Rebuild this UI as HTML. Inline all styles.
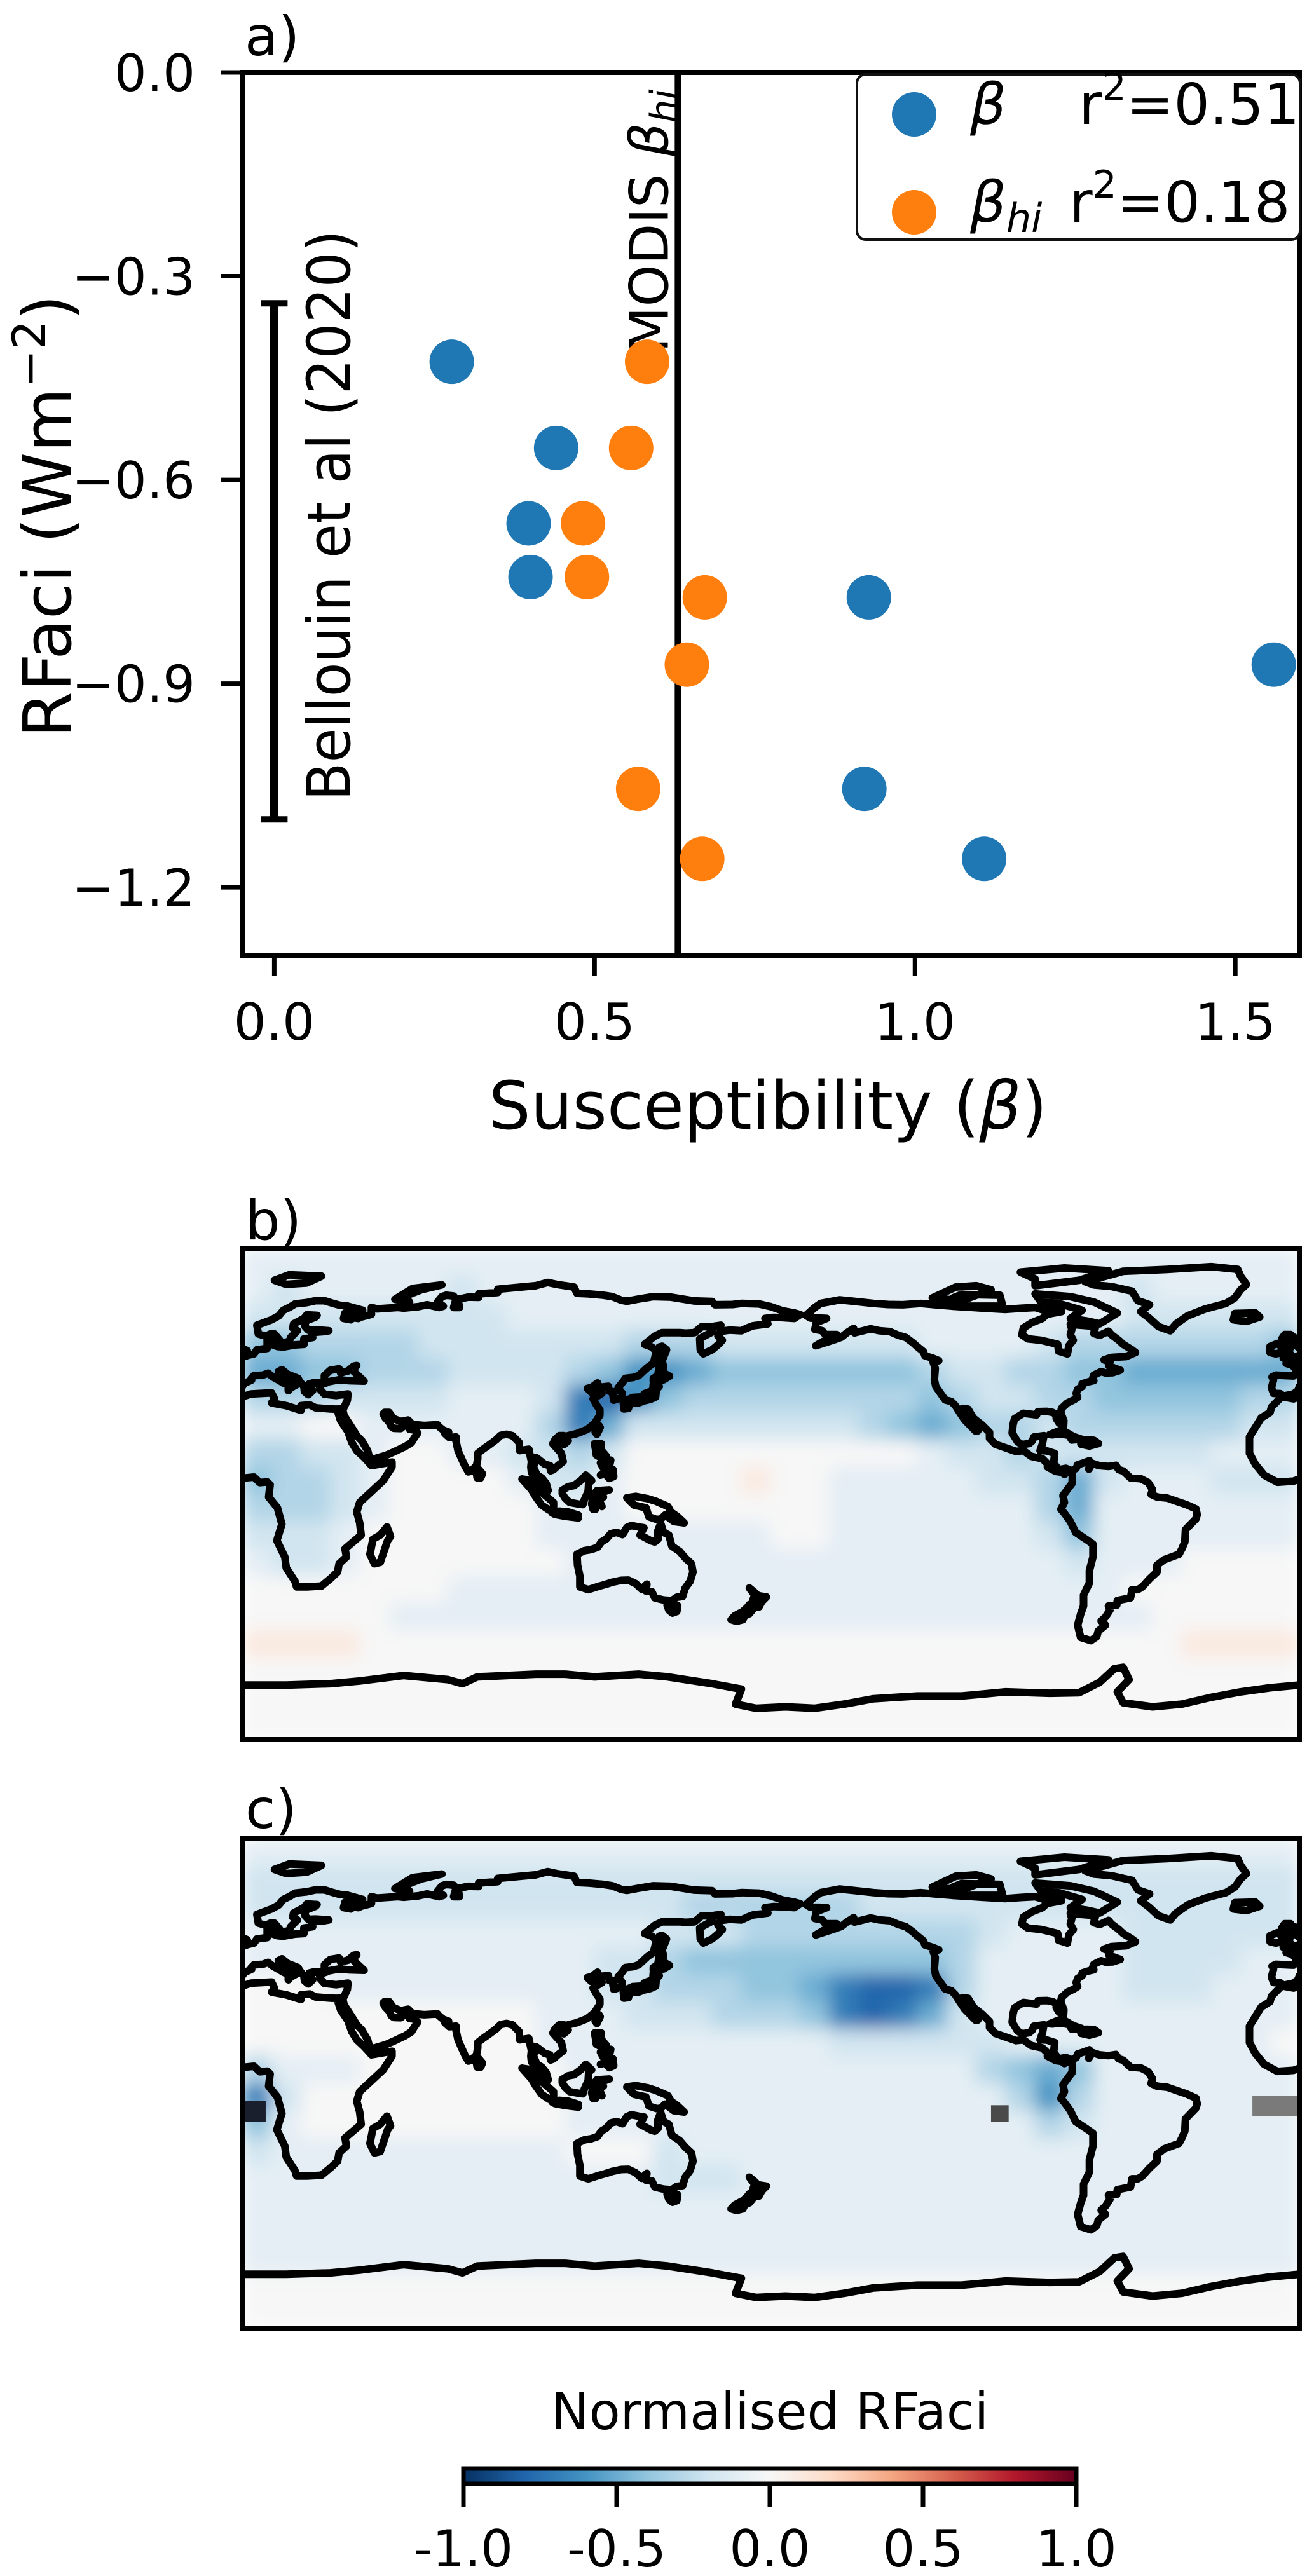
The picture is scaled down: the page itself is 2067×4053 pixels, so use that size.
<!DOCTYPE html>
<html><head><meta charset="utf-8">
<style>
html,body{margin:0;padding:0;background:#fff;}
svg{display:block;font-family:"DejaVu Sans","Liberation Sans",sans-serif;}
</style></head>
<body>
<svg id="fig" xmlns="http://www.w3.org/2000/svg" width="2067" height="4053" viewBox="0 0 2067 4053">
<defs>
  <clipPath id="clipA"><rect x="381" y="114" width="1663" height="1389"/></clipPath>
  <clipPath id="clipB"><rect x="381" y="1965" width="1663" height="772"/></clipPath>
  <clipPath id="clipC"><rect x="381" y="2892" width="1663" height="772"/></clipPath>
  <filter id="soft" x="0" y="0" width="1" height="1"><feGaussianBlur stdDeviation="14" edgeMode="duplicate"/></filter>
  <linearGradient id="cmap" x1="0" x2="1" y1="0" y2="0">
    <stop offset="0" stop-color="#053061"/><stop offset="0.1" stop-color="#2166ac"/>
    <stop offset="0.2" stop-color="#4393c3"/><stop offset="0.3" stop-color="#92c5de"/>
    <stop offset="0.4" stop-color="#d1e5f0"/><stop offset="0.5" stop-color="#f7f7f7"/>
    <stop offset="0.6" stop-color="#fddbc7"/><stop offset="0.7" stop-color="#f4a582"/>
    <stop offset="0.8" stop-color="#d6604d"/><stop offset="0.9" stop-color="#b2182b"/>
    <stop offset="1" stop-color="#67001f"/>
  </linearGradient>
</defs>

<g id="panelA">
  <text x="385" y="87" font-size="86">a)</text>
  <g id="aMarks" clip-path="url(#clipA)"></g>
  <rect x="381" y="114" width="1663" height="1389" fill="none" stroke="#000" stroke-width="8"/>
  <g id="aTicks"></g>
  <text x="1208" y="1776" font-size="104" text-anchor="middle">Susceptibility (<tspan font-style="italic">β</tspan>)</text>
  <text transform="translate(111,812) rotate(-90)" font-size="104" text-anchor="middle">RFaci (Wm<tspan dy="-40" font-size="72">−2</tspan><tspan dy="40">)</tspan></text>
  <g>
    <rect x="1348" y="117" width="697" height="260" rx="14" fill="#fff" stroke="#111" stroke-width="4"/>
    <circle cx="1438" cy="180" r="35" fill="#1f77b4"/>
    <text x="1526" y="195" font-size="89" font-style="italic">β</text>
    <text x="1697" y="195" font-size="89">r<tspan dy="-38" font-size="60">2</tspan><tspan dy="38">=0.51</tspan></text>
    <circle cx="1438" cy="334" r="35" fill="#ff7f0e"/>
    <text x="1526" y="349" font-size="89" font-style="italic">β<tspan dy="16" font-size="62">hi</tspan></text>
    <text x="1682" y="349" font-size="89">r<tspan dy="-38" font-size="60">2</tspan><tspan dy="38">=0.18</tspan></text>
  </g>
</g>

<g>
  <text x="386" y="1950" font-size="86">b)</text>
  <g clip-path="url(#clipB)"><g id="heatB" filter="url(#soft)"></g><g id="extraB"></g><g id="coastB"></g></g>
  <rect x="381" y="1965" width="1663" height="772" fill="none" stroke="#000" stroke-width="8"/>
</g>

<g>
  <text x="386" y="2876" font-size="86">c)</text>
  <g clip-path="url(#clipC)"><g id="heatC" filter="url(#soft)"></g><g id="extraC"></g><g id="coastC"></g></g>
  <rect x="381" y="2892" width="1663" height="772" fill="none" stroke="#000" stroke-width="8"/>
</g>

<g>
  <text x="1211" y="3822" font-size="80" text-anchor="middle">Normalised RFaci</text>
  <rect x="729" y="3884" width="964" height="24" fill="url(#cmap)" stroke="#000" stroke-width="7"/>
  <g id="cbTicks"></g>
</g>
</svg>

<script>
const rfaci = [-0.426, -0.553, -0.664, -0.743, -0.773, -0.872, -1.055, -1.158];
const betaVals = [0.277, 0.440, 0.397, 0.400, 0.928, 1.56, 0.921, 1.108];
const betaHiVals = [0.582, 0.557, 0.482, 0.488, 0.672, 0.644, 0.568, 0.668];
const xTicks = [0.0, 0.5, 1.0, 1.5];
const xTickLabels = ["0.0", "0.5", "1.0", "1.5"];
const yTicks = [0.0, -0.3, -0.6, -0.9, -1.2];
const yTickLabels = ["0.0", "−0.3", "−0.6", "−0.9", "−1.2"];
const modisBetaHi = 0.63;
const bellouinRange = [-0.34, -1.10];
const cbTickVals = [-1.0, -0.5, 0.0, 0.5, 1.0];
const cbTickLabels = ["-1.0", "-0.5", "0.0", "0.5", "1.0"];

const mapB = [
[-1,-1,-1,-1,-1,-1,-1,-1,-1,-1,-1,-1,-1,-1,-1,-1,-1,-1,-1,-1,-1,-1,-1,-1,-1,-1,-1,-1,-1,-1,-1,-1,-1,-1,-1,-1],
[-1,-2,-1,-1,-1,-1,-1,-2,-1,-1,-1,-1,-1,-1,-1,-1,-1,-1,-1,-1,-1,-1,-1,-1,-1,-1,-1,-1,-1,-1,-2,-1,-1,-1,-1,-1],
[-2,-2,-2,-2,-2,-2,-2,-2,-2,-1,-1,-1,-1,-1,-1,-1,-1,-1,-1,-1,-1,-1,-1,-1,-1,-1,-1,-1,-1,-1,-2,-2,-2,-2,-2,-2],
[-4,-4,-3,-3,-3,-3,-2,-2,-2,-2,-2,-2,-2,-3,-3,-3,-2,-2,-2,-2,-2,-2,-2,-1,-1,-1,-1,-2,-3,-3,-3,-3,-3,-3,-3,-4],
[-5,-5,-4,-4,-3,-3,-3,-2,-2,-2,-2,-3,-4,-6,-6,-5,-4,-4,-4,-4,-4,-4,-4,-3,-2,-2,-3,-3,-4,-4,-5,-5,-5,-5,-5,-5],
[-3,-3,-3,-2,-2,-2,-2,-1,-1,-1,-2,-7,-8,-6,-4,-3,-3,-3,-3,-3,-3,-3,-3,-4,-3,-2,-2,-3,-3,-4,-4,-4,-4,-4,-3,-3],
[-1,-1, 0, 0,-1,-1,-1,-1,-1,-1,-3,-7,-5,-2,-2,-2,-2,-2,-2,-2,-2,-3,-4,-5,-4,-3,-3,-2,-3,-3,-3,-3,-3,-3,-2,-2],
[-3,-3,-2,-2,-1, 0, 0,-1,-1,-2,-2,-3,-2, 0, 0, 0, 0, 0, 0, 0, 0, 0, 0,-1,-2,-2,-3,-2,-2,-2,-2,-2,-2,-1,-1,-1],
[-4,-3,-3,-2,-1, 0, 0, 0, 0,-1,-2,-2,-1, 0, 0, 0, 0, 1, 0, 0,-1,-1,-1,-1,-1,-2,-2,-3,-5,-2,-1,-1,-1,-2,-2,-2],
[-3,-3,-3,-2,-1, 0, 0, 0, 0, 0,-1,-1,-1, 0, 0, 0, 0, 0, 0, 0,-1,-1,-1,-1,-1,-1,-1,-3,-5,-1,-1,-1,-1,-1,-1,-1],
[-2,-2,-2,-1, 0, 0, 0, 0, 0, 0,-1,-1,-1,-1,-1,-1,-1,-1, 0, 0,-1,-1,-1,-1,-1,-1,-1,-2,-4,-1,-1,-1,-1,-1,-1,-1],
[-1,-2,-2,-1, 0, 0, 0, 0, 0, 0, 0,-1,-1,-1,-1,-1,-1,-1,-1,-1,-1,-1,-1,-1,-1,-1,-1,-1,-2,-1,-1,-1, 0, 0, 0, 0],
[ 0, 0, 0, 0, 0, 0, 0,-1,-1,-1,-1,-1,-1,-1,-1,-1,-1,-1,-1,-1,-1,-1,-1,-1,-1,-1,-1,-1,-1,-1, 0, 0, 0, 0, 0, 0],
[ 0, 0, 0, 0, 0,-1,-1,-1,-1,-1,-1,-1,-1,-1,-1,-1,-1,-1,-1,-1,-1,-1,-1,-1,-1,-1,-1,-1,-1,-1,-1, 0, 0, 0, 0, 0],
[ 1, 1, 1, 1, 0, 0, 0, 0, 0, 0, 0, 0, 0, 0, 0, 0, 0, 0, 0, 0, 0, 0, 0, 0, 0, 0, 0, 0, 0, 0, 0, 0, 1, 1, 1, 1],
[ 0, 0, 0, 0, 0, 0, 0, 0, 0, 0, 0, 0, 0, 0, 0, 0, 0, 0, 0, 0, 0, 0, 0, 0, 0, 0, 0, 0, 0, 0, 0, 0, 0, 0, 0, 0],
[ 0, 0, 0, 0, 0, 0, 0, 0, 0, 0, 0, 0, 0, 0, 0, 0, 0, 0, 0, 0, 0, 0, 0, 0, 0, 0, 0, 0, 0, 0, 0, 0, 0, 0, 0, 0],
[ 0, 0, 0, 0, 0, 0, 0, 0, 0, 0, 0, 0, 0, 0, 0, 0, 0, 0, 0, 0, 0, 0, 0, 0, 0, 0, 0, 0, 0, 0, 0, 0, 0, 0, 0, 0]
];
const mapC = [
[-1,-1,-1,-1,-1,-1,-1,-1,-1,-1,-1,-1,-1,-1,-1,-1,-1,-1,-1,-1,-1,-1,-1,-1,-1,-1,-1,-1,-1,-1,-1,-1,-1,-1,-1,-1],
[-2,-2,-2,-2,-2,-2,-2,-2,-2,-2,-2,-2,-2,-2,-2,-2,-2,-2,-2,-2,-2,-2,-2,-2,-2,-2,-2,-2,-2,-2,-2,-2,-2,-2,-2,-2],
[-2,-2,-2,-2,-2,-2,-2,-2,-2,-2,-2,-2,-2,-2,-2,-3,-3,-3,-3,-3,-3,-2,-2,-2,-2,-2,-2,-2,-2,-2,-2,-2,-2,-2,-2,-2],
[-1,-1,-1,-1,-1,-1,-1,-1,-1,-1,-1,-1,-1,-1,-2,-2,-2,-3,-3,-3,-3,-3,-3,-3,-3,-2,-1,-1,-1,-1,-2,-2,-2,-2,-2,-2],
[-1,-1,-1,-1,-1,-1,-1,-1,-1,-1,-1,-1,-2,-2,-3,-4,-4,-4,-4,-4,-4,-4,-4,-4,-3,-1,-1,-1,-1,-1,-2,-2,-2,-2,-1,-1],
[ 0, 0, 0,-1,-1,-1,-1,-1,-1,-1,-1,-1,-2,-2,-3,-3,-3,-4,-4,-5,-7,-8,-8,-7,-3,-1,-1,-1,-1,-1,-2,-2,-2,-1,-1,-1],
[ 0, 0, 0, 0, 0, 0, 0, 0, 0, 0,-1,-1,-1,-2,-2,-2,-3,-3,-3,-4,-7,-8,-7,-5,-2,-1,-1,-1,-1,-1,-1,-1,-1,-1,-1,-1],
[ 0, 0, 0, 0, 0, 0, 0, 0, 0, 0,-1,-1,-1,-1,-1,-1,-1,-1,-1,-1,-2,-2,-2,-2,-2,-2,-1,-1,-1,-1,-1,-1,-1,-1,-1, 0],
[-3,-1,-1,-1, 0, 0, 0, 0, 0, 0, 0,-1,-1,-1,-1,-1,-1,-1,-1,-1,-1,-1,-1,-1,-1,-3,-4,-5,-4,-1,-1,-1,-1,-1,-1,-1],
[-7,-2, 0, 0, 0, 0, 0, 0, 0, 0, 0,-1,-1,-1,-1,-1,-1,-1,-1,-1,-1,-1,-1,-1,-1,-1,-3,-6,-3,-1,-1,-1,-1,-1,-1,-1],
[-4,-1, 0, 0, 0, 0, 0, 0, 0, 0, 0,-1,-1,-1,-1,-1,-1,-1,-1,-1,-1,-1,-1,-1,-1,-1,-1,-3,-2,-1,-1,-1,-1,-1,-1,-1],
[-2,-1,-1,-1,-1,-1,-1,-1,-1,-1,-1, 0, 0, 0,-2,-1,-1,-1,-1,-1,-1,-1,-1,-1,-1,-1,-1,-1,-1,-1,-1,-1,-1,-1,-1,-1],
[-1,-1,-1,-1,-1,-1,-1,-1,-1,-1,-1,-1,-1,-1,-2,-2,-2,-1,-1,-1,-1,-1,-1,-1,-1,-1,-1,-1,-1,-1,-1,-1,-1,-1,-1,-1],
[-1,-1,-1,-1,-1,-1,-1,-1,-1,-1,-1,-1,-1,-1,-1,-1,-1,-1,-1,-1,-1,-1,-1,-1,-1,-1,-1,-1,-1,-1,-1,-1,-1,-1,-1,-1],
[-1,-1,-1,-1,-1,-1,-1,-1,-1,-1,-1,-1,-1,-1,-1,-1,-1,-1,-1,-1,-1,-1,-1,-1,-1,-1,-1,-1,-1,-1,-1,-1,-1,-1,-1,-1],
[-1,-1,-1,-1,-1,-1,-1,-1,-1,-1,-1,-1,-1,-1,-1,-1,-1,-1,-1,-1,-1,-1,-1,-1,-1,-1,-1,-1,-1,-1,-1,-1,-1,-1,-1,-1],
[ 0, 0, 0, 0, 0, 0, 0, 0, 0, 0, 0, 0, 0, 0, 0, 0, 0, 0, 0, 0, 0, 0, 0, 0, 0, 0, 0, 0, 0, 0, 0, 0, 0, 0, 0, 0],
[ 0, 0, 0, 0, 0, 0, 0, 0, 0, 0, 0, 0, 0, 0, 0, 0, 0, 0, 0, 0, 0, 0, 0, 0, 0, 0, 0, 0, 0, 0, 0, 0, 0, 0, 0, 0]
];
const missingC = [[255,261,-8,-14,"#4a4a4a"],[344,360,-4.5,-12,"#7a7a7a"],[0,8,-6.5,-14,"#1a1f2e"]];

const coasts = [
[[-17,15],[-17,21],[-13,28],[-10,30],[-9.5,32],[-6,35.8],[-2,35],[3,36.8],[10,37.2],[11,35],[10,33.5],[15,32.5],[20,30.8],[20,32.5],[23,32.8],[25,31.7],[30,31.3],[32.3,31.2],[32.6,30],[33.5,27],[36,23],[37.3,19],[39,16],[41.5,13.5],[43.2,11.5],[44,10.5],[51,11.8],[51,10],[48,5],[42,-1],[40,-3],[39,-6.5],[40,-10.5],[40.5,-15],[35,-20],[35.5,-23],[33,-25.5],[32.5,-28.5],[30,-31],[27,-33.7],[22,-34],[18.5,-34],[18,-32],[15,-27],[14.5,-23],[11.8,-17],[13.5,-11],[12,-5],[9,-1],[9.5,3.5],[8.5,4.5],[6,4.3],[4,6.3],[1,6],[-2,4.8],[-7.5,4.4],[-12,7],[-15,11],[-17,15]],
[[32.3,31.2],[34.5,31.5],[35.8,34.5],[36,36.8],[32,36.2],[28,36.7],[26.5,38.5],[26.3,40],[29,41],[28,41.6],[28,43.5],[30,45.5],[33,46],[33.5,44.5],[36,45.2],[38,47],[39,47.2],[37.5,45.5],[41.5,41.5],[36,41.7],[33,42],[29,41.2],[26.5,40.8],[24,40.8],[22.8,40.5],[24,38],[22.5,36.5],[21.2,37.7],[21,39.5],[19.5,41.5],[19,42.5],[15.5,44],[13.5,45.7],[12.3,45],[12.5,44],[14,42],[16,41],[18.5,40.2],[16.5,39],[15.7,38],[15.7,40],[14,40.8],[12.5,41.8],[10.5,43],[8.8,44.4],[7,43.7],[4,43.5],[3.1,42.5],[3.2,41.9],[0.8,40.7],[0,39.5],[-0.5,38],[-2,36.8],[-5.5,36],[-6.5,36.9],[-8.8,37],[-9.5,39],[-8.8,42],[-9.3,43],[-8,43.7],[-2,43.4],[-1.3,44.5],[-1.2,46],[-2.5,47.3],[-4.5,48],[-1.5,48.7],[-1.3,49.7],[2,51],[4,51.5],[5,53],[8.5,53.5],[8.5,57],[10.5,57.5],[10.5,54.8],[12,54.2],[14,54],[18,54.8],[21,55],[21,57],[24,57.5],[24,58.5],[23.5,59.3],[28,59.7],[29.5,60],[25,60.3],[22.5,60.2],[21.4,61.5],[21.5,63.5],[25,65],[25.5,65.6],[22,65.8],[21,64.5],[17.5,62.5],[17.2,61],[18.8,60],[16.5,57.5],[16,56],[13,55.5],[12.8,56.5],[11,58.8],[10,59],[8,58],[5.5,58.8],[5,62],[10,64],[12.5,65.5],[14,67.5],[16,68.5],[18,69.8],[22,70.3],[25,71],[28,71],[31,70],[33,69.4],[36,69],[41,67.5],[40,66],[35,66.5],[34.5,64.5],[37,64],[37.5,64.8],[39.5,64.5],[40.5,65],[44,66],[44,68.5],[46,68],[53,68.5],[55,68.3],[60,68.8],[63,69.5],[67,68.5],[68.5,69],[66.5,70.5],[68,72.5],[69.5,73],[72,72.7],[72.8,71.5],[72,68.5],[74,68.5],[73.5,71.5],[77,72.3],[80.5,72.2],[80.5,73.5],[87,74],[87,75.2],[95,76],[100,76.5],[104,77.7],[107,77],[113,76],[114,73.7],[118,73.5],[123,73],[126,72.5],[129,71.2],[131,70.8],[135,71.6],[140,72.5],[146,72.3],[150,71.6],[154,70.9],[160,70.7],[161,69.5],[167,69.6],[170,70],[176,69.8],[180,68.8],[184,67.3],[188,66.5],[190,65.9],[188,64.5],[184,64.8],[181,64.9],[178,64.5],[179,62.5],[174,61.8],[172,61],[170,60],[166,60.2],[163,59.8],[162,58],[163.5,56.5],[162,54.8],[160,53],[157,51.5],[156,53],[155.8,57],[157,57.8],[160,59.5],[160,61],[163,62],[160,61.5],[156.5,61.5],[154,59.3],[151,59.1],[149,59.3],[143,59.3],[140.5,58],[137,55],[139.5,54],[141,52.5],[140.5,50],[140,48],[138,46.5],[135,43.5],[133,42.8],[130.5,42.5],[129.5,41],[128,39],[129.4,37],[129.5,35.5],[126.5,34.5],[126.2,36.5],[126.8,37.5],[125,37.8],[124.7,39.6],[121.5,39.2],[121,40.8],[119,39.2],[117.6,38.8],[118.8,37.5],[120.5,37.5],[122.5,37],[119.5,35],[120.8,32.5],[121.8,31],[121.8,29],[120,26],[117.5,23.8],[114,22.3],[111,21.5],[110,20.3],[109.5,21.5],[108,21.5],[106.5,20],[105.8,18.5],[107,17],[108.7,15],[109.3,12],[107.5,10.5],[106,9],[105,8.6],[104.8,10.5],[103,11],[101,12.7],[100,13.5],[99.2,10],[100,8],[100.5,7],[102,6],[103.5,4],[104.2,1.4],[103.5,1.3],[101,3],[100.3,5],[98.5,8],[98.3,10],[98.5,12],[97.6,16.5],[94.5,16],[94.3,19],[92,21.5],[90,22],[88,21.6],[86.5,20],[84,18],[82,16.5],[80.2,15],[80.2,13],[79.8,10.5],[78,8.5],[77,8.2],[76,10],[74.7,13],[73.5,16],[72.8,19.5],[72.8,21],[70.5,20.8],[69,22.3],[70.3,22.8],[68.5,23.5],[67,24.8],[66.5,25.5],[62,25.2],[58,25.6],[56.5,27.2],[54,26.7],[51.5,27.8],[50,30],[48.5,30],[48,29.5],[48.7,28],[50,26.5],[50.8,24.8],[51.6,24.2],[54,24.1],[56,26],[56.4,24.9],[57,23.8],[58.6,23.6],[59.8,22.5],[58.5,20.5],[57.7,19],[55.5,17.5],[52.2,15.8],[49,14.3],[45,13],[43.5,12.7],[42.7,16],[40.8,19.5],[39,21.5],[37.6,24],[35.2,28],[34.6,29.3],[34.2,31.2],[32.3,31.2]],
[[-5.5,50],[1.5,51],[1.7,52.7],[0,53.5],[-1,54.5],[-2,56],[-1.8,57.6],[-4,57.7],[-3,58.6],[-5,58.6],[-6,57],[-5.5,55.5],[-3,54.9],[-3.2,53.4],[-4.5,52.9],[-5.2,51.7],[-3,51.4],[-5.5,50]],
[[-6,52],[-6,54],[-7.5,55.3],[-10,54.2],[-10,52],[-8,51.5],[-6,52]],
[[-22.5,64],[-22,66.3],[-15,66.5],[-13.5,65],[-18,63.4],[-22.5,64]],
[[80,9.8],[81.8,7.5],[81.2,6],[80,6],[79.7,8.1],[80,9.8]],
[[49.3,-12],[50.5,-15.5],[49.5,-17],[47,-25],[45,-25.5],[43.5,-22],[44.5,-16.5],[47,-15],[49.3,-12]],
[[130,31.3],[131.5,31.5],[132,33.5],[135,33.5],[136.9,34.3],[139,34.8],[140.8,35.7],[141,38.3],[142,39.5],[141.5,41.3],[140,40.5],[139.8,38],[137,36.9],[136,35.7],[133,35.5],[131,34.5],[129.8,33.3],[130,31.3]],
[[140,41.5],[141.2,41.8],[143.5,42],[145.5,43.3],[144,44.2],[141.8,45.4],[141.5,43.5],[140,42.5],[140,41.5]],
[[142,46],[143.5,46.5],[143,49],[144.5,53],[143,54.3],[142,54],[142,51],[142,48],[142,46]],
[[120.2,22.8],[121.5,25.2],[121.9,24.5],[120.8,22],[120.2,22.8]],
[[108.7,19],[110.3,20.1],[111,19.6],[109.5,18.2],[108.7,19]],
[[120,18.5],[122.3,18.5],[122,16.5],[124,14],[122,13.5],[120.6,14.4],[120.4,16],[120,18.5]],
[[122,7],[126.3,9],[126.5,6.5],[125,5.8],[123.5,7.6],[122,7]],
[[122,11.5],[125.5,12.5],[125,10],[123,9.5],[122,11.5]],
[[109,1.5],[111,2.8],[113,3.2],[115.5,5.2],[117,7],[119,5],[118,4.2],[117.8,1],[116.5,-2],[116,-3.8],[114.5,-3.6],[111.5,-3],[110,-1.5],[109,0.2],[109,1.5]],
[[95.3,5.6],[97.5,5.2],[100.3,2.2],[103.5,-0.7],[106,-3],[106,-5.8],[104.5,-5.8],[102,-4],[100,-1],[98.5,1.7],[95.3,5.6]],
[[105.5,-6.8],[108,-6.2],[111,-6.5],[114.5,-7.7],[114.5,-8.7],[110,-8.1],[106.5,-7.4],[105.5,-6.8]],
[[119.5,-5.5],[119,-3.5],[119.8,0],[120.8,1.3],[125,1.6],[122,0.5],[121,-1],[123,-1],[121.5,-2],[122.5,-4.5],[121,-3.5],[120.3,-5.5],[119.5,-5.5]],
[[131,-1.3],[134,-0.8],[138,-1.6],[141,-2.6],[145,-4.5],[146,-6.5],[148,-8],[150.5,-10.5],[147,-10],[144,-7.6],[142.5,-9.2],[141,-9.2],[138.5,-8.3],[137.5,-5],[133.5,-4],[132,-2.5],[131,-1.3]],
[[114,-22],[114.2,-26],[115,-30],[115,-34],[117.9,-35],[121,-33.9],[124,-33],[126,-32.3],[129,-31.6],[131.5,-31.5],[134,-32.8],[136,-34.8],[137.8,-33],[137.5,-35.5],[139.5,-35.8],[140.5,-38],[143.5,-38.8],[146.3,-39],[148,-37.8],[150,-37.5],[150.8,-34.5],[152.5,-32],[153.5,-28.5],[153,-25.5],[151,-23.5],[149,-21],[146.3,-19],[145.3,-15],[143.5,-14],[142.5,-10.7],[141.5,-13.5],[141.6,-16.5],[140.5,-17.5],[139,-17],[137,-15.8],[135.5,-15],[136.8,-12.3],[135,-12],[132.5,-11.5],[131,-12.2],[129.5,-14.8],[127.5,-14],[125.5,-14.5],[124,-16.4],[122.3,-17.5],[121,-19.5],[118.8,-20.3],[116.5,-20.7],[114,-22]],
[[144.7,-40.7],[148.3,-40.9],[148,-43],[146.5,-43.6],[145.3,-42.5],[144.7,-40.7]],
[[172.7,-34.4],[174.5,-36],[175.6,-37.2],[178.5,-37.7],[177,-39.3],[176,-41.3],[174.7,-41.3],[175,-39.5],[173.8,-39.2],[174.5,-37],[172.7,-34.4]],
[[172.7,-40.5],[174.3,-41.6],[173.4,-42.9],[172.7,-43.8],[171.2,-44.5],[170.5,-46],[168.3,-46.6],[166.5,-46],[167.7,-44.6],[170.5,-43],[172,-41.5],[172.7,-40.5]],
[[-168,65.6],[-165,68.5],[-163,70],[-156.5,71.3],[-152,70.8],[-145,70],[-140,69.6],[-135,69.5],[-129,70],[-124,69.5],[-117,68.9],[-108,68.3],[-100,67.8],[-95,68.2],[-90,68.5],[-87,67.5],[-82,69.5],[-81,67],[-86,66],[-87.5,64.5],[-91,63],[-94,61],[-94.5,58.5],[-92.5,57],[-88,56.5],[-82.3,55],[-82,52.5],[-79,51.5],[-78.5,54.5],[-77,56.5],[-78,58.5],[-77.5,60.5],[-78,62.3],[-72,61.8],[-69.5,61],[-70,59],[-68,58.3],[-65,59.8],[-64,58.5],[-61.5,56.5],[-60,55],[-57,53],[-55.8,52],[-59,50.5],[-64,50.2],[-66.5,49.3],[-64.5,48.5],[-64.8,47],[-61,45.5],[-63.5,44.6],[-66,44.5],[-67.5,45],[-70,43.7],[-70.6,42],[-70,41.7],[-72,41.2],[-74,40.5],[-74,39.5],[-75.5,38.5],[-76,37],[-75.5,35.5],[-77,34.5],[-79,33.5],[-81,31.5],[-81.3,30],[-80.2,27],[-80.3,25.3],[-81.8,26.1],[-82.8,27.8],[-82.8,29.2],[-84,30],[-86,30.4],[-89,30.3],[-89.5,29.1],[-91,29.3],[-94,29.7],[-97,27.7],[-97.5,25.5],[-97.8,22.5],[-96,19.3],[-94.5,18.2],[-92,18.6],[-91,19.5],[-90.4,21],[-87,21.5],[-87.5,18.5],[-88.3,16],[-86,15.9],[-83.3,15],[-83.7,11.5],[-82,9],[-79.5,9.5],[-77.5,8.6],[-76,9.5],[-75.5,10.8],[-73.5,11.5],[-71.5,12.3],[-71.5,10.8],[-71.7,9.2],[-70.5,11.3],[-68.2,10.5],[-65,10.2],[-62.5,10.6],[-61.5,9],[-60,8.5],[-57.5,6],[-54,5.7],[-51.5,4.3],[-50,1.7],[-50.5,0],[-48.5,-1],[-45,-1.4],[-41,-2.9],[-38.5,-3.8],[-35.2,-5.4],[-34.8,-7.5],[-35.2,-9],[-37,-11],[-38.8,-13],[-39,-17.5],[-40,-20],[-41,-22],[-43.5,-23],[-46,-24],[-48.5,-26],[-48.5,-28.5],[-51,-31],[-53.5,-34],[-55,-35],[-57,-35],[-57.5,-38],[-62,-39],[-62.2,-40.7],[-65,-41],[-64.5,-42.5],[-66,-45],[-67.5,-46.5],[-66,-48],[-68.5,-50.2],[-69,-52.2],[-71,-53.7],[-74.5,-52.5],[-75.5,-48],[-74.5,-44],[-73.5,-41],[-73.5,-37],[-71.5,-32.5],[-71.5,-28],[-70.3,-23],[-70.3,-18.3],[-72,-17],[-76.2,-14],[-78,-10],[-80,-7],[-81.2,-5.5],[-80,-3],[-80.5,-0.5],[-79.5,1],[-78.5,2.5],[-77.4,4],[-77.3,7],[-78.4,8.4],[-80,7.3],[-81,8.1],[-83,8.4],[-85.8,10],[-85.8,11.2],[-87.5,13],[-91.3,13.9],[-94,16],[-96.5,15.7],[-100,17],[-103.5,18.3],[-105.5,20.5],[-105.5,22.7],[-108,25.4],[-111,27.9],[-112.8,31.2],[-114.7,31.5],[-112.2,28.5],[-109.5,23.3],[-110.3,23.2],[-114,27.3],[-115.8,30.2],[-117.2,32.6],[-118.5,34],[-120.6,34.6],[-122.5,37.5],[-123.8,39.5],[-124.3,42],[-124,46.2],[-124.7,48.4],[-122.8,49],[-125,50],[-127.5,50.8],[-128,52.3],[-130.5,54.5],[-131.5,55.5],[-134,57.5],[-136.5,58.3],[-139.5,59.7],[-143,60],[-146,60.7],[-148.5,60],[-151.5,59.2],[-151.8,60.8],[-154,59.3],[-156,57.6],[-158.3,56.7],[-161.8,55.5],[-164.7,54.5],[-162,56.2],[-157.5,58.6],[-161.5,58.6],[-162.5,60],[-165,60.5],[-164.5,63],[-161,64.5],[-163.5,64.6],[-166.5,64.6],[-168,65.6]],
[[-85,21.9],[-82,23.2],[-80,23.1],[-77,21.2],[-74.2,20.2],[-77.5,19.9],[-78.5,21.6],[-81.5,22.2],[-84,21.8],[-85,21.9]],
[[-74.4,18.4],[-72.8,19.9],[-70,19.8],[-68.4,18.6],[-71.5,17.7],[-74.4,18.4]],
[[-73,78],[-66,80],[-60,81.8],[-45,82.5],[-30,83.5],[-21,82.5],[-20,80],[-18,77],[-20,75],[-22,72],[-25,70],[-32,68],[-38,65.5],[-42,62.5],[-44,60],[-48,61.5],[-51,64.5],[-54,67],[-51,69.5],[-55,71],[-57,74.5],[-64,76.2],[-70,76.8],[-73,78]],
[[-62,66.5],[-68,62.5],[-72,63.5],[-78,64.5],[-74,67.5],[-82,70],[-88,70.5],[-90,73.5],[-78,72.5],[-70,70.5],[-66,68.5],[-62,66.5]],
[[-118,69],[-101,69],[-102,73],[-115,73.3],[-118,72],[-118,69]],
[[-90,76.5],[-75,78.5],[-65,82],[-80,83],[-95,81.5],[-90,79],[-90,76.5]],
[[-125,72],[-117,76],[-110,76.5],[-105,75],[-115,71],[-125,72]],
[[11,78.5],[16,80.5],[27,80],[22,77.5],[15,77],[11,78.5]],
[[52,71.5],[58,75.5],[68,76.8],[61,75],[55,72.5],[57,70.5],[52,71.5]],
[[0,-70],[15,-70],[30,-69.5],[40,-68.5],[55,-66.5],[70,-68],[75,-69.5],[80,-67],[90,-66.5],[100,-66],[110,-66],[120,-67],[135,-66],[145,-67],[160,-69.5],[170,-71.5],[168,-77],[175,-78.5],[185,-78],[195,-78.5],[205,-77],[215,-75],[230,-74],[245,-74],[255,-73],[260,-72.5],[275,-73],[285,-72.8],[292,-69],[297,-64],[300,-63.5],[302,-68],[298,-72.5],[300,-76.5],[310,-78],[320,-77],[330,-74.5],[340,-72.5],[350,-71],[360,-70]]
];

const NS = "http://www.w3.org/2000/svg";
function mk(tag, attrs, parent){ const e=document.createElementNS(NS,tag); for(const k in attrs) e.setAttribute(k,attrs[k]); parent.appendChild(e); return e; }

const AX = {l:381, r:2044, t:114, b:1503, x0:-0.05, x1:1.6, y0:-1.3, y1:0.0};
function xA(v){ return AX.l + (v-AX.x0)/(AX.x1-AX.x0)*(AX.r-AX.l); }
function yA(v){ return AX.t + (AX.y1-v)/(AX.y1-AX.y0)*(AX.b-AX.t); }

const aMarks = document.getElementById('aMarks');
const ml = mk('line',{x1:xA(modisBetaHi),x2:xA(modisBetaHi),y1:AX.t,y2:AX.b,stroke:'#000','stroke-width':10},aMarks);


const mt = mk('text',{transform:'translate('+(xA(modisBetaHi)-16)+',555) rotate(-90)','font-size':84},aMarks);


mt.appendChild(document.createTextNode('MODIS '));
const mtb = mk('tspan',{'font-style':'italic'},mt); mtb.textContent='β';
const mth = mk('tspan',{'font-style':'italic','font-size':58,dy:14},mt); mth.textContent='hi';

const bx = xA(0);
const bg = mk('g',{},aMarks);


mk('line',{x1:bx,x2:bx,y1:yA(bellouinRange[0]),y2:yA(bellouinRange[1]),stroke:'#000','stroke-width':13},bg);
mk('line',{x1:bx-21,x2:bx+21,y1:yA(bellouinRange[0]),y2:yA(bellouinRange[0]),stroke:'#000','stroke-width':10},bg);
mk('line',{x1:bx-21,x2:bx+21,y1:yA(bellouinRange[1]),y2:yA(bellouinRange[1]),stroke:'#000','stroke-width':10},bg);
const bt = mk('text',{transform:'translate(550,811) rotate(-90)','font-size':94,'text-anchor':'middle',textLength:898,lengthAdjust:'spacingAndGlyphs'},aMarks);


bt.textContent = 'Bellouin et al (2020)';
for(let i=0;i<rfaci.length;i++){
  const c = mk('circle',{cx:xA(betaVals[i]),cy:yA(rfaci[i]),r:35,fill:'#1f77b4'},aMarks);
  
  
}
for(let i=0;i<rfaci.length;i++){
  const c = mk('circle',{cx:xA(betaHiVals[i]),cy:yA(rfaci[i]),r:35,fill:'#ff7f0e'},aMarks);
  
  
}
const aTicks = document.getElementById('aTicks');
xTicks.forEach(function(v,i){
  const t = mk('line',{x1:xA(v),x2:xA(v),y1:AX.b,y2:AX.b+33,stroke:'#000','stroke-width':7},aTicks);
  
  
  const l = mk('text',{x:xA(v),y:1636,'font-size':80,'text-anchor':'middle'},aTicks);
  
  
  l.textContent = xTickLabels[i];
});
yTicks.forEach(function(v,i){
  const t = mk('line',{x1:AX.l-33,x2:AX.l,y1:yA(v),y2:yA(v),stroke:'#000','stroke-width':7},aTicks);
  
  
  const l = mk('text',{x:307,y:yA(v)+29,'font-size':80,'text-anchor':'end'},aTicks);
  
  
  l.textContent = yTickLabels[i];
});

const stops = [[5,48,97],[33,102,172],[67,147,195],[146,197,222],[209,229,240],[247,247,247],[253,219,199],[244,165,130],[214,96,77],[178,24,43],[103,0,31]];
function cmap(v){ const t=(Math.max(-1,Math.min(1,v))+1)/2*10; const i=Math.min(9,Math.floor(t)); const f=t-i;
  const a=stops[i], b=stops[i+1]; return 'rgb('+Math.round(a[0]+(b[0]-a[0])*f)+','+Math.round(a[1]+(b[1]-a[1])*f)+','+Math.round(a[2]+(b[2]-a[2])*f)+')'; }

function drawMap(top, grid, heatId, coastId, name){
  const L=381, W=1663, H=772;
  const X = function(lon){ return L + lon/360*W; };
  const Y = function(lat){ return top + (90-lat)/180*H; };
  const heat = document.getElementById(heatId);
  const cw = W/36, ch = H/18;
  for(let r=0;r<grid.length;r++){
    for(let c=0;c<grid[r].length;c++){
      const cell = mk('rect',{x:X(c*10)-0.5,y:Y(90-r*10)-0.5,width:cw+1,height:ch+1,fill:cmap(grid[r][c]/10)},heat);
      
      
    }
  }
  const cg = document.getElementById(coastId);
  coasts.forEach(function(poly){
    [-360,0,360].forEach(function(off){
      const d = poly.map(function(p,i){ return (i?'L':'M')+X(p[0]+off).toFixed(1)+' '+Y(p[1]).toFixed(1); }).join(' ');
      const p = mk('path',{d:d,fill:'none',stroke:'#000','stroke-width':12,'stroke-linejoin':'round','stroke-linecap':'round'},cg);
      
      
    });
  });
  return {X:X,Y:Y};
}
drawMap(1965, mapB, 'heatB', 'coastB', 'map-b');
const mc = drawMap(2892, mapC, 'heatC', 'coastC', 'map-c');
const exC = document.getElementById('extraC');
missingC.forEach(function(m){
  const r = mk('rect',{x:mc.X(m[0]),y:mc.Y(m[2]),width:mc.X(m[1])-mc.X(m[0]),height:mc.Y(m[3])-mc.Y(m[2]),fill:m[4]},exC);
  
  
});

const cbG = document.getElementById('cbTicks');
const cbX = function(v){ return 729 + (v+1)/2*964; };
cbTickVals.forEach(function(v,i){
  const t = mk('line',{x1:cbX(v),x2:cbX(v),y1:3908,y2:3945,stroke:'#000','stroke-width':7},cbG);
  
  
  const l = mk('text',{x:cbX(v),y:4038,'font-size':80,'text-anchor':'middle'},cbG);
  
  
  l.textContent = cbTickLabels[i];
});
</script>
</body></html>
